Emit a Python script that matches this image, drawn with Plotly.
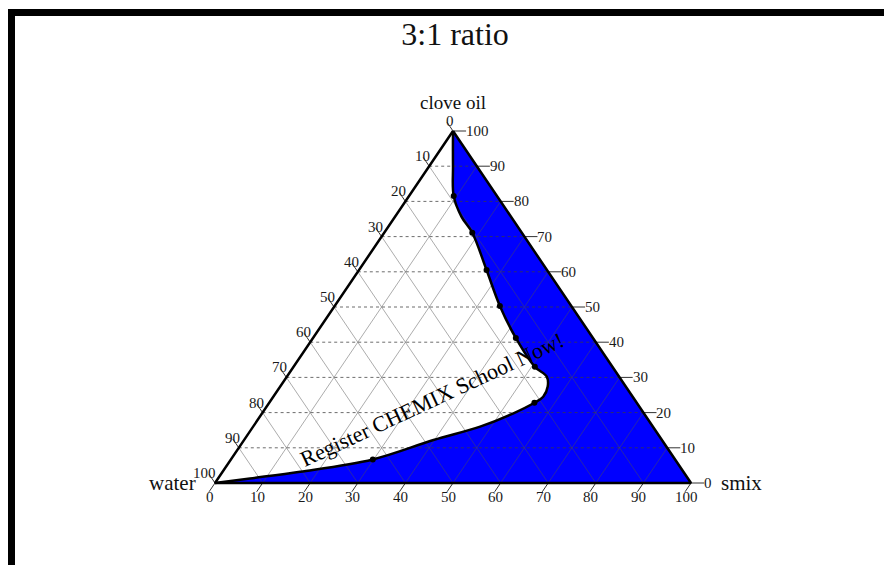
import plotly.graph_objects as go

# ---------------- data (percent) ----------------
tick_values = [0, 10, 20, 30, 40, 50, 60, 70, 80, 90, 100]

# phase boundary: clove oil / water / smix (%)
curve_clove = [100, 90, 81.5, 75.6, 71.1, 60.5, 50.3, 41.2, 33.0, 30.2, 27.4, 24.5, 22.8, 19.8, 16.0, 12.2, 6.7, 3.2, 1.3, 0]
curve_water = [0, 5, 9.1, 10.4, 10.4, 12.7, 15.0, 16.2, 16.3, 15.2, 16.4, 18.8, 21.5, 27.4, 36.3, 48.0, 63.5, 80.5, 92.0, 100]
curve_smix = [0, 5, 9.4, 14.0, 18.5, 26.8, 34.7, 42.6, 50.7, 54.6, 56.2, 56.7, 55.7, 52.8, 47.7, 39.8, 29.8, 16.3, 6.7, 0]

# measured points on the boundary
dot_clove = [81.5, 71.1, 60.5, 50.3, 41.2, 33.0, 22.8, 6.7]
dot_water = [9.1, 10.4, 12.7, 15.0, 16.2, 16.3, 21.5, 63.5]
dot_smix = [9.4, 18.5, 26.8, 34.7, 42.6, 50.7, 55.7, 29.8]

title_text = "3:1 ratio"
apex_top, apex_left, apex_right = "clove oil", "water", "smix"
watermark = "Register CHEMIX School Now!"

FONT = "Liberation Serif"


def txy(c, w, s):
    t = c + w + s
    return (s + c / 2.0) / t, c / t


def conv(cs, ws, ss):
    xs, ys = [], []
    for c, w, s in zip(cs, ws, ss):
        x, y = txy(c, w, s)
        xs.append(x)
        ys.append(y)
    return xs, ys


fig = go.Figure()

# right edge (base for the fill)
ex, ey = conv([100, 0], [0, 0], [0, 100])
fig.add_trace(go.Scatter(x=ex, y=ey, mode="lines", line=dict(width=0, color="black"),
                         hoverinfo="skip"))
# one-phase region fill between boundary curve and right edge
cx, cy = conv(curve_clove, curve_water, curve_smix)
fig.add_trace(go.Scatter(x=cx, y=cy, mode="lines", line=dict(width=0, shape="spline", color="blue"),
                         fill="tonextx", fillcolor="rgb(0,0,255)", hoverinfo="skip"))

# grid lines
hx, hy, sx, sy = [], [], [], []
for v in tick_values[1:-1]:
    k = v / 100.0
    # constant clove (horizontal)
    a = txy(k, 1 - k, 0); b = txy(k, 0, 1 - k)
    hx += [a[0], b[0], None]; hy += [a[1], b[1], None]
    # constant smix
    a = txy(0, 1 - k, k); b = txy(1 - k, 0, k)
    sx += [a[0], b[0], None]; sy += [a[1], b[1], None]
    # constant water
    a = txy(0, k, 1 - k); b = txy(1 - k, k, 0)
    sx += [a[0], b[0], None]; sy += [a[1], b[1], None]
fig.add_trace(go.Scatter(x=hx, y=hy, mode="lines",
                         line=dict(width=1, color="rgba(60,60,60,0.75)", dash="dot"), hoverinfo="skip"))
fig.add_trace(go.Scatter(x=sx, y=sy, mode="lines",
                         line=dict(width=0.8, color="rgba(80,80,80,0.6)"), hoverinfo="skip"))

# ticks
L = 0.025
tx, ty = [], []
for v in tick_values:
    k = v / 100.0
    # left axis (water): edge point smix = 0
    p = txy(1 - k, k, 0)
    tx += [p[0], p[0] - 0.5 * L, None]; ty += [p[1], p[1] + L, None]
    # right axis (clove): edge point water = 0
    p = txy(k, 0, 1 - k)
    tx += [p[0], p[0] + 1.1 * L, None]; ty += [p[1], p[1], None]
    # bottom axis (smix): edge point clove = 0
    p = txy(0, 1 - k, k)
    tx += [p[0], p[0] - 0.5 * L, None]; ty += [p[1], p[1] - L, None]
fig.add_trace(go.Scatter(x=tx, y=ty, mode="lines", line=dict(width=1, color="#333"), hoverinfo="skip"))

# triangle edges
bx, by = conv([100, 0, 0, 100], [0, 100, 0, 0], [0, 0, 100, 0])
fig.add_trace(go.Scatter(x=bx, y=by, mode="lines", line=dict(width=2.5, color="black"), hoverinfo="skip"))

# boundary curve line and points
fig.add_trace(go.Scatter(x=cx, y=cy, mode="lines", line=dict(width=2.5, shape="spline", color="black"),
                         hoverinfo="skip"))
dx, dy = conv(dot_clove, dot_water, dot_smix)
fig.add_trace(go.Scatter(x=dx, y=dy, mode="markers", marker=dict(size=6, color="black"), hoverinfo="skip"))

# tick labels
ann = []
tick_font = dict(family=FONT, size=15, color="#1a1a1a")
for v in tick_values:
    k = v / 100.0
    p = txy(1 - k, k, 0)
    ann.append(dict(x=p[0], y=p[1], text=str(v), showarrow=False, xanchor="right", yanchor="middle",
                    xshift=2, yshift=10, borderpad=0, font=tick_font))
    p = txy(k, 0, 1 - k)
    ann.append(dict(x=p[0], y=p[1], text=str(v), showarrow=False, xanchor="left", yanchor="middle",
                    xshift=12, yshift=0, borderpad=0, font=tick_font))
    p = txy(0, 1 - k, k)
    ann.append(dict(x=p[0], y=p[1], text=str(v), showarrow=False, xanchor="center", yanchor="middle",
                    xshift=-5, yshift=-14, borderpad=0, font=tick_font))

lab_font = dict(family=FONT, size=19, color="#111")
pt = txy(100, 0, 0)
ann.append(dict(x=pt[0], y=pt[1], text=apex_top, showarrow=False, xanchor="center", yanchor="middle",
                yshift=29, borderpad=0, font=lab_font))
pl = txy(0, 100, 0)
ann.append(dict(x=pl[0], y=pl[1], text=apex_left, showarrow=False, xanchor="right", yanchor="middle",
                xshift=-17, font=dict(family=FONT, size=21, color="#111")))
pr = txy(0, 0, 100)
ann.append(dict(x=pr[0], y=pr[1], text=apex_right, showarrow=False, xanchor="left", yanchor="middle",
                xshift=28, font=dict(family=FONT, size=21, color="#111")))

# watermark (position relative to the triangle)
wx, wy = (432 - 215) / 476.0, (483 - 399) / 352.0
ann.append(dict(x=wx, y=wy, text=watermark, showarrow=False, textangle=-25,
                font=dict(family=FONT, size=22, color="black")))

# page has an 8px body margin: the figure is sized to fit inside it
OFF = 8
W, H = 892 - 2 * OFF, 573 - 2 * OFF
X0, Y0 = 215 - OFF, 483 - OFF     # water corner in figure pixels
SX, SY = 476.0, 352.0             # pixels per unit

fig.update_layout(
    width=W, height=H,
    margin=dict(l=0, r=0, t=0, b=0),
    paper_bgcolor="white", plot_bgcolor="white",
    showlegend=False,
    title=dict(text=title_text, x=(455 - OFF) / W, y=1 - (34 - OFF) / H, xanchor="center", yanchor="middle",
               font=dict(family=FONT, size=32, color="#111")),
    xaxis=dict(visible=False, range=[-X0 / SX, (W - X0) / SX], fixedrange=True),
    yaxis=dict(visible=False, range=[-(H - Y0) / SY, Y0 / SY], fixedrange=True),
    annotations=ann,
    shapes=[dict(type="rect", xref="paper", yref="paper",
                 x0=3.5 / W, x1=1 + 10 / W, y0=-10 / H, y1=1 - 4.5 / H,
                 line=dict(color="black", width=7), layer="above")],
)

fig.write_html("out.html")
